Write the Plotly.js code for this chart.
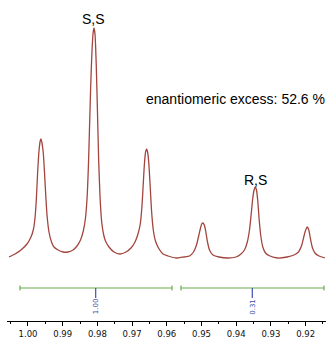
<!DOCTYPE html>
<html>
<head>
<meta charset="utf-8">
<script src="https://cdn.plot.ly/plotly-3.0.1.min.js"></script>
<style>html,body{margin:0;padding:0;background:#fff;}#chart{width:326px;height:338px;}</style>
</head>
<body>
<div id="chart"></div>
<script>
// Chemical shift (ppm) of the traced spectrum
var shiftPpm = [1.00548,1.00375,1.00202,1.00029,0.99914,0.99841,0.99798,0.99761,0.99723,0.99683,0.99648,0.99625,0.99602,0.99562,0.99525,0.99487,0.99452,0.99395,0.99323,0.99251,0.99135,0.98991,0.98847,0.98703,0.98588,0.98487,0.98406,0.98343,0.98294,0.98259,0.98231,0.98199,0.98164,0.98127,0.98098,0.98069,0.98032,0.97997,0.97965,0.97925,0.97876,0.97824,0.97767,0.97666,0.97522,0.97349,0.97176,0.97032,0.96916,0.96830,0.96764,0.96715,0.96677,0.96643,0.96611,0.96582,0.96553,0.96519,0.96484,0.96441,0.96389,0.96326,0.96239,0.96110,0.95965,0.95735,0.95504,0.95346,0.95231,0.95144,0.95081,0.95035,0.94994,0.94957,0.94919,0.94879,0.94833,0.94769,0.94669,0.94496,0.94236,0.94006,0.93862,0.93761,0.93680,0.93617,0.93565,0.93522,0.93484,0.93450,0.93415,0.93378,0.93337,0.93291,0.93233,0.93156,0.93026,0.92795,0.92536,0.92334,0.92205,0.92110,0.92046,0.91997,0.91951,0.91908,0.91859,0.91801,0.91729,0.91614,0.91441];
// Signal intensity (arbitrary units)
var intensity = [1,4,8,14,21,29,40,58,85,107,117,119,116,106,86,62,43,26,16,11,8,6,6,8,12,18,27,40,62,92,125,165,200,224,230,224,192,145,100,62,36,24,17,11,6,4,6,10,16,24,34,52,75,95,106,109,106,95,75,48,28,17,10,4,2,0,1,2,6,13,22,29,34,35,33,27,17,8,3,1,0,1,4,8,16,28,45,60,68,71,68,57,38,22,11,5,2,0,1,3,6,13,22,28,31,28,19,10,5,2,0];

// Integration regions
var integralStart = [1.00231, 0.95591];
var integralEnd   = [0.95850, 0.91470];
var integralMark  = [0.98049, 0.93536];
var integralLabel = ['1.00', '0.31'];

// Peak labels
var peakLabels = ['S,S', 'R,S'];
var peakLabelX = [0.98098, 0.93444];
var peakLabelY = [239, 78.5];
var eeText = 'enantiomeric excess: 52.6 %';
var eeX = 0.94006, eeY = 159;

var intLevel = -30, capHalf = 2.5, markLen = 10, labelY = -48.5;

var shapes = [];
var annotations = [];
for (var i = 0; i < integralStart.length; i++) {
  shapes.push({type:'line', xref:'x', yref:'y', x0:integralStart[i], x1:integralEnd[i], y0:intLevel, y1:intLevel, line:{color:'#6aae4c', width:1.2}});
  shapes.push({type:'line', xref:'x', yref:'y', x0:integralStart[i], x1:integralStart[i], y0:intLevel-capHalf, y1:intLevel+capHalf, line:{color:'#6aae4c', width:1.2}});
  shapes.push({type:'line', xref:'x', yref:'y', x0:integralEnd[i], x1:integralEnd[i], y0:intLevel-capHalf, y1:intLevel+capHalf, line:{color:'#6aae4c', width:1.2}});
  shapes.push({type:'line', xref:'x', yref:'y', x0:integralMark[i], x1:integralMark[i], y0:intLevel, y1:intLevel-markLen, line:{color:'#3f51b0', width:1.2}});
  annotations.push({xref:'x', yref:'y', x:integralMark[i], y:labelY, text:integralLabel[i], showarrow:false, textangle:-90, xanchor:'center', yanchor:'middle', font:{family:'DejaVu Sans', size:7, color:'#3f51b0'}});
}
for (var j = 0; j < peakLabels.length; j++) {
  annotations.push({xref:'x', yref:'y', x:peakLabelX[j], y:peakLabelY[j], text:peakLabels[j], showarrow:false, xanchor:'center', yanchor:'middle', font:{family:'Liberation Sans', size:14, color:'#000'}});
}
annotations.push({xref:'x', yref:'y', x:eeX, y:eeY, text:eeText, showarrow:false, xanchor:'center', yanchor:'middle', font:{family:'Liberation Sans', size:14, color:'#000'}});

var trace = {
  x: shiftPpm, y: intensity, type:'scatter', mode:'lines',
  line:{color:'#a2453e', width:1.3, shape:'spline', smoothing:0.6},
  hoverinfo:'none'
};

var layout = {
  width:326, height:338,
  margin:{l:7, r:0, t:0, b:17, pad:0},
  paper_bgcolor:'#fff', plot_bgcolor:'#fff',
  showlegend:false,
  xaxis:{
    range:[1.00605, 0.91412], dtick:0.01, tick0:0, tickformat:'.2f',
    ticks:'outside', ticklen:4, tickwidth:1, tickcolor:'#000',
    ticklabelstandoff:1,
    showline:true, linecolor:'#000', linewidth:1,
    showgrid:false, zeroline:false,
    tickfont:{family:'DejaVu Sans', size:8.5, color:'#111'},
    minor:{dtick:0.005, ticks:'outside', ticklen:2, tickcolor:'#000', showgrid:false}
  },
  yaxis:{range:[-63, 258], visible:false, showgrid:false, zeroline:false},
  shapes:shapes,
  annotations:annotations
};

Plotly.newPlot('chart', [trace], layout, {staticPlot:true, displayModeBar:false});
</script>
</body>
</html>
